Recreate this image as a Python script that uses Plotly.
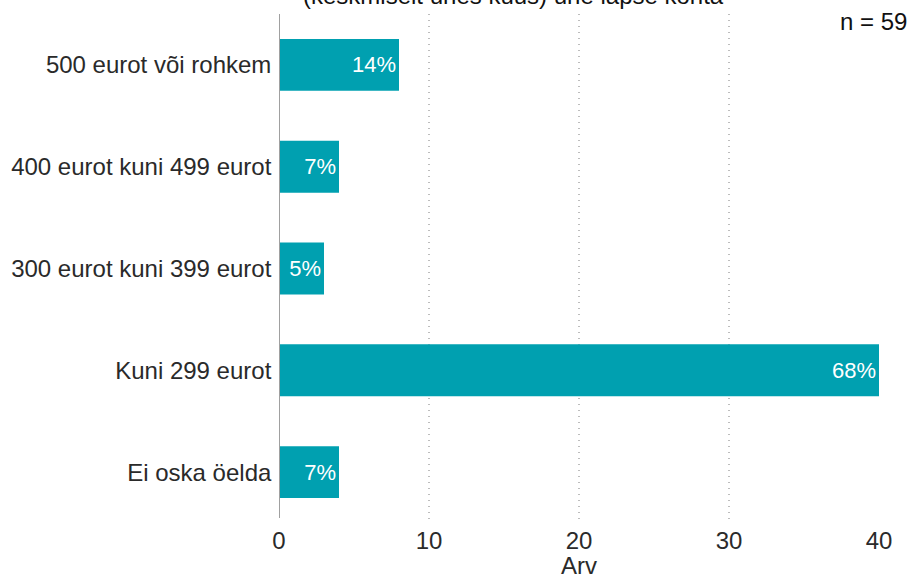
import plotly.graph_objects as go

# Survey answers (bottom to top) and number of respondents per answer
categories = [
    "Ei oska öelda",
    "Kuni 299 eurot",
    "300 eurot kuni 399 eurot",
    "400 eurot kuni 499 eurot",
    "500 eurot või rohkem",
]
counts = [4, 40, 3, 4, 8]
total = sum(counts)
percent_labels = [f"{round(c / total * 100)}%" for c in counts]

x_ticks = [0, 10, 20, 30, 40]

BAR_COLOR = "#00a0b0"
TEXT_COLOR = "#2a2a2a"
FONT = "Liberation Sans, Arial, Helvetica, sans-serif"

fig = go.Figure(
    go.Bar(
        x=counts,
        y=categories,
        orientation="h",
        marker=dict(color=BAR_COLOR, line=dict(width=0)),
        text=percent_labels,
        textposition="inside",
        insidetextanchor="end",
        textfont=dict(color="white", size=22, family=FONT),
        hoverinfo="skip",
    )
)

fig.update_layout(
    width=911,
    height=582,
    margin=dict(l=279, r=32, t=14, b=59),
    paper_bgcolor="white",
    plot_bgcolor="white",
    font=dict(family=FONT, color=TEXT_COLOR, size=24),
    bargap=0.49,
    showlegend=False,
    uniformtext=dict(mode="show", minsize=22),
    xaxis=dict(
        range=[0, 40],
        tickvals=x_ticks,
        ticktext=[str(t) for t in x_ticks],
        showgrid=True,
        gridcolor="#bdbdbd",
        griddash="1px,5px",
        gridwidth=1.5,
        zeroline=False,
        showline=False,
        ticks="",
        ticklabelstandoff=1,
        tickfont=dict(size=24, color=TEXT_COLOR),
        automargin=False,
    ),
    yaxis=dict(
        showgrid=False,
        zeroline=False,
        showline=False,
        ticks="",
        ticksuffix=" ",
        tickfont=dict(size=24, color=TEXT_COLOR),
        automargin=False,
    ),
    shapes=[
        dict(
            type="line",
            xref="x",
            yref="paper",
            x0=0,
            x1=0,
            y0=0.01,
            y1=1,
            line=dict(color="#a0a0a0", width=2),
        )
    ],
    annotations=[
        # x-axis title
        dict(
            text="Arv",
            xref="paper",
            yref="paper",
            x=0.5,
            y=-0.084,
            xanchor="center",
            yanchor="middle",
            showarrow=False,
            font=dict(size=24, color=TEXT_COLOR),
        ),
        dict(
            text="n = 59",
            xref="paper",
            yref="paper",
            x=1.05,
            y=0.985,
            xanchor="right",
            yanchor="middle",
            showarrow=False,
            font=dict(size=24, color="#111111"),
        ),
        dict(
            text="(keskmiselt ühes kuus) ühe lapse kohta",
            xref="paper",
            yref="paper",
            x=0.39,
            y=1.0,
            yshift=3,
            xanchor="center",
            yanchor="bottom",
            showarrow=False,
            font=dict(size=24, color="#111111"),
        ),
    ],
)

fig.write_html("out.html")
